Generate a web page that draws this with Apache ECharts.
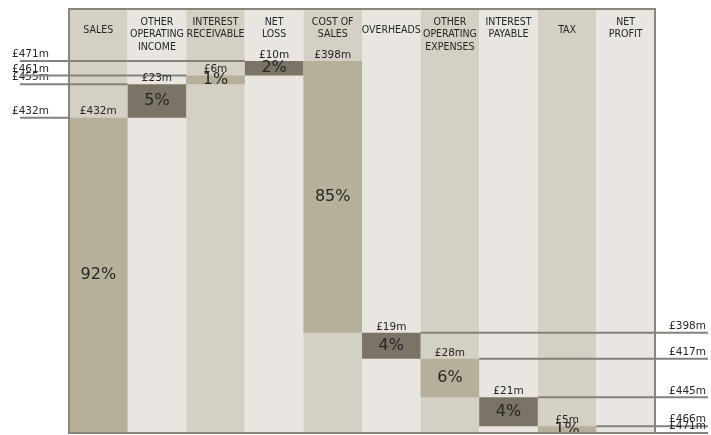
<!DOCTYPE html>
<html>
<head>
<meta charset="utf-8">
<script src="https://cdn.jsdelivr.net/npm/echarts@6/dist/echarts.min.js"></script>
<style>
html,body{margin:0;padding:0;background:#ffffff;}
#chart{width:711px;height:435px;}
</style>
</head>
<body>
<div id="chart"></div>
<script>
// ---- data ----
const categories = ['SALES', 'OTHER\nOPERATING\nINCOME', 'INTEREST\nRECEIVABLE', 'NET\nLOSS', 'COST OF\nSALES',
                    'OVERHEADS', 'OTHER\nOPERATING\nEXPENSES', 'INTEREST\nPAYABLE', 'TAX', 'NET\nPROFIT'];
const incomeValues   = [432, 23, 6, 10];        // £m, columns SALES .. NET LOSS
const costValues     = [398, 19, 28, 21, 5];    // £m, columns COST OF SALES .. TAX
const incomePercents = [92, 5, 1, 2];
const costPercents   = [85, 4, 6, 4, 1];

// ---- derived ----
const N = categories.length;
const costStart = incomeValues.length;
const incomeBase = [], incomeTop = [], costBase = [], costEnd = [];
let acc = 0;
incomeValues.forEach(v => { incomeBase.push(acc); acc += v; incomeTop.push(acc); });
const total = acc;
acc = 0;
costValues.forEach(v => { costBase.push(acc); acc += v; costEnd.push(acc); });

function spread(arr, start) {
  const out = new Array(N).fill('-');
  arr.forEach((v, i) => { out[start + i] = v; });
  return out;
}

// visible (truncated) value ranges of the two value axes
const LEFT_MIN = 215;
const RIGHT_MIN = 200;

// ---- style ----
const TAN = '#b6b09b', DARK = '#7b7366';
const STRIPE_DARK = '#d4d0c5', STRIPE_LIGHT = '#e9e6e1';
const FRAME = '#8c8679', LINE = '#86817a', TEXT = '#262626';
const VAL_FONT = '10.5px "DejaVu Sans"';
const HEAD_FONT = '"DejaVu Sans Condensed", "DejaVu Sans", sans-serif';

const barColor = p => (p.dataIndex % 2 === 0 ? TAN : DARK);

const chart = echarts.init(document.getElementById('chart'), null, {renderer: 'canvas'});

chart.setOption({
  animation: false,
  backgroundColor: '#ffffff',
  grid: [
    {left: 69, right: 56, top: 9, bottom: 2, show: true, z: 3,
     backgroundColor: 'transparent', borderColor: FRAME, borderWidth: 2},
    {left: 69, right: 56, top: 61, bottom: 2}
  ],
  xAxis: [
    {gridIndex: 0, type: 'category', data: categories, position: 'top',
     axisLine: {show: false}, axisTick: {show: false},
     axisLabel: {inside: true, margin: 7, interval: 0, color: TEXT,
       fontFamily: HEAD_FONT, fontSize: 10.5, lineHeight: 12.5,
       verticalAlign: 'top',
       formatter: v => (v.indexOf('\n') >= 0 ? v : '{s|' + v + '}'),
       rich: {s: {padding: [17, 0, 0, 0], lineHeight: 12.5, fontSize: 10.5,
                  fontFamily: HEAD_FONT, color: TEXT}}},
     splitArea: {show: true, interval: 0, areaStyle: {color: [STRIPE_DARK, STRIPE_LIGHT]}},
     splitLine: {show: false}},
    {gridIndex: 1, type: 'category', data: categories, show: false}
  ],
  yAxis: [
    {gridIndex: 0, type: 'value', show: false, min: 0, max: 1},
    {gridIndex: 1, type: 'value', show: false, min: LEFT_MIN, max: total},
    {gridIndex: 1, type: 'value', show: false, min: RIGHT_MIN, max: total, inverse: true}
  ],
  series: [
    {type: 'bar', name: 'incomeBase', xAxisIndex: 1, yAxisIndex: 1, stack: 'income',
     data: spread(incomeBase, 0), barWidth: '100%', barGap: '-100%', silent: true,
     itemStyle: {color: 'transparent'}},
    {type: 'bar', name: 'income', xAxisIndex: 1, yAxisIndex: 1, stack: 'income',
     data: spread(incomeValues, 0), barWidth: '100%', barGap: '-100%',
     itemStyle: {color: barColor},
     label: {show: true, position: 'inside', color: TEXT, fontFamily: 'DejaVu Sans', fontSize: 16,
             formatter: p => incomePercents[p.dataIndex] + '%'}},
    {type: 'bar', name: 'costBase', xAxisIndex: 1, yAxisIndex: 2, stack: 'cost',
     data: spread(costBase, costStart), barWidth: '100%', barGap: '-100%', silent: true,
     itemStyle: {color: 'transparent'}},
    {type: 'bar', name: 'cost', xAxisIndex: 1, yAxisIndex: 2, stack: 'cost',
     data: spread(costValues, costStart), barWidth: '100%', barGap: '-100%',
     itemStyle: {color: barColor},
     label: {show: true, position: 'inside', color: TEXT, fontFamily: 'DejaVu Sans', fontSize: 16,
             formatter: p => costPercents[p.dataIndex - costStart] + '%'}},
    // amount labels above bars
    {type: 'scatter', xAxisIndex: 1, yAxisIndex: 1, clip: false, symbolSize: 1, z: 5, silent: true,
     itemStyle: {color: 'transparent', opacity: 1},
     data: incomeTop.map((v, i) => [i, v]),
     label: {show: true, position: 'top', distance: 0, color: TEXT, fontFamily: 'DejaVu Sans', fontSize: 10.5,
             formatter: p => '£' + incomeValues[p.dataIndex] + 'm'}},
    {type: 'scatter', xAxisIndex: 1, yAxisIndex: 2, clip: false, symbolSize: 1, z: 5, silent: true,
     itemStyle: {color: 'transparent', opacity: 1},
     data: costBase.map((v, k) => [costStart + k, Math.max(v, RIGHT_MIN)]),
     label: {show: true, position: 'top', distance: 0, color: TEXT, fontFamily: 'DejaVu Sans', fontSize: 10.5,
             formatter: p => '£' + costValues[p.dataIndex] + 'm'}},
    // left connectors: cumulative income levels
    {type: 'custom', xAxisIndex: 1, yAxisIndex: 1, clip: false, z: 4, silent: true,
     data: incomeTop.map((v, i) => [i, v]),
     renderItem: (params, api) => {
       const lvl = api.value(1);
       const p = api.coord([api.value(0), lvl]);
       const half = api.size([1, 0])[0] / 2;
       return {type: 'group', children: [
         {type: 'line', shape: {x1: 20, y1: p[1], x2: p[0] - half, y2: p[1]},
          style: {stroke: LINE, lineWidth: 2}},
         {type: 'text', style: {text: '£' + lvl + 'm', x: 12, y: p[1] - 1, align: 'left',
          verticalAlign: 'bottom', font: VAL_FONT, fill: TEXT}}
       ]};
     }},
    // right connectors: cumulative cost levels
    {type: 'custom', xAxisIndex: 1, yAxisIndex: 2, clip: false, z: 4, silent: true,
     data: costEnd.map((v, k) => [costStart + 1 + k, v]),
     renderItem: (params, api) => {
       const lvl = api.value(1);
       const p = api.coord([api.value(0), lvl]);
       const half = api.size([1, 0])[0] / 2;
       return {type: 'group', children: [
         {type: 'line', shape: {x1: p[0] + half, y1: p[1], x2: 708, y2: p[1]},
          style: {stroke: LINE, lineWidth: 2}},
         {type: 'text', style: {text: '£' + lvl + 'm', x: 706, y: p[1] - 1, align: 'right',
          verticalAlign: 'bottom', font: VAL_FONT, fill: TEXT}}
       ]};
     }}
  ]
});
</script>
</body>
</html>
